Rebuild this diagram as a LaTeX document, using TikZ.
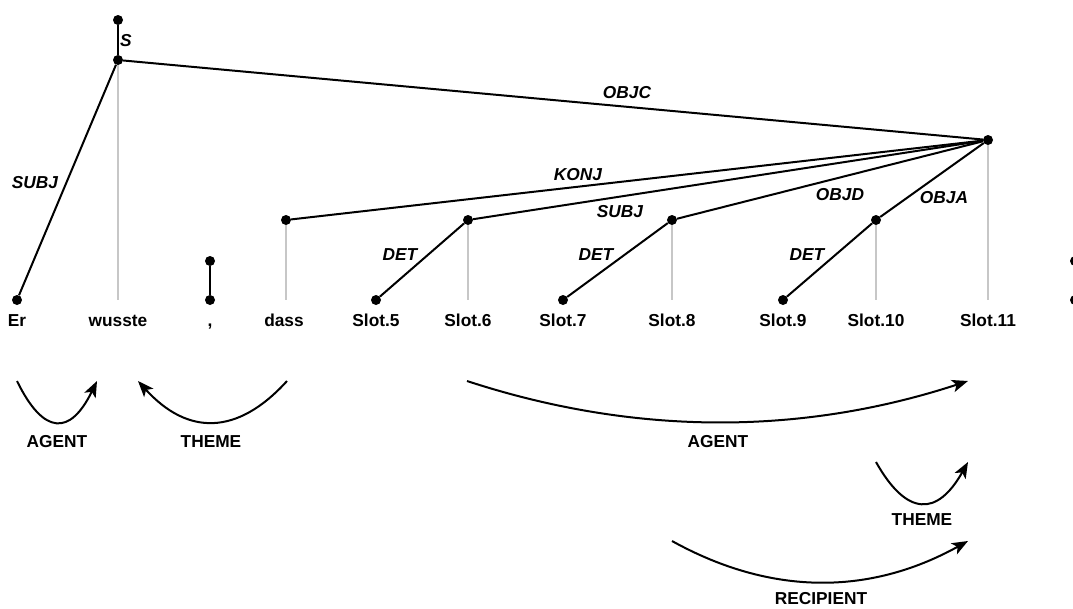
\documentclass[tikz,border=0pt]{standalone}
\usepackage{fontspec}
\setmainfont{Liberation Sans}
\usetikzlibrary{arrows.meta}
\begin{document}
\begin{tikzpicture}[x=1pt,y=-1pt,
  dot/.style={circle,fill=black,inner sep=0pt,minimum size=10pt},
  word/.style={anchor=base,inner sep=0pt,font=\fontsize{17.3}{20}\selectfont\bfseries},
  rel/.style={inner sep=0pt,font=\fontsize{17.3}{20}\selectfont\bfseries\itshape},
  role/.style={inner sep=0pt,font=\fontsize{17.3}{20}\selectfont\bfseries},
  dep/.style={line width=2pt,black},
  proj/.style={line width=2pt,black!22},
  arc/.style={line width=2pt,-{Stealth[length=16pt,width=12.5pt,inset=4pt]}}]
\useasboundingbox (0,0) rectangle (1073,608);

% tree nodes
\node[dot] (root)  at (118,20) {};
\node[dot] (s)     at (118,60) {};
\node[dot] (er)    at (17,300) {};
\node[dot] (commaT) at (210,261) {};
\node[dot] (commaB) at (210,300) {};
\node[dot] (dass)  at (286,220) {};
\node[dot] (sl5)   at (376,300) {};
\node[dot] (sl6)   at (468,220) {};
\node[dot] (sl7)   at (563,300) {};
\node[dot] (sl8)   at (672,220) {};
\node[dot] (sl9)   at (783,300) {};
\node[dot] (sl10)  at (876,220) {};
\node[dot] (sl11)  at (988,140) {};
\node[dot] (perT)  at (1075,261) {};
\node[dot] (perB)  at (1075,300) {};

% word baselines
\coordinate (wusB) at (118,300);
\coordinate (dassB) at (286,300);
\coordinate (sl6B) at (468,300);
\coordinate (sl8B) at (672,300);
\coordinate (sl10B) at (876,300);
\coordinate (sl11B) at (988,300);

% projection lines
\draw[proj] (s) -- (wusB);
\draw[proj] (dass) -- (dassB);
\draw[proj] (sl6) -- (sl6B);
\draw[proj] (sl8) -- (sl8B);
\draw[proj] (sl10) -- (sl10B);
\draw[proj] (sl11) -- (sl11B);

% dependency edges
\draw[dep] (root) -- (s);
\draw[dep] (s) -- (er);
\draw[dep] (s) -- (sl11);
\draw[dep] (sl11) -- (dass);
\draw[dep] (sl11) -- (sl6);
\draw[dep] (sl11) -- (sl8);
\draw[dep] (sl11) -- (sl10);
\draw[dep] (sl10) -- (sl9);
\draw[dep] (sl6) -- (sl5);
\draw[dep] (sl8) -- (sl7);
\draw[dep] (commaT) -- (commaB);
\draw[dep] (perT) -- (perB);

% edge labels
\node[rel,anchor=west] (lS) at (120,41) {S};
\node[rel] (lSubj) at (35,183) {SUBJ};
\node[rel] (lObjc) at (627,93) {OBJC};
\node[rel] (lKonj) at (578,175) {KONJ};
\node[rel] (lSubj2) at (620,212) {SUBJ};
\node[rel] (lObjd) at (840,195) {OBJD};
\node[rel] (lObja) at (944,198) {OBJA};
\node[rel] (lDet1) at (400,255) {DET};
\node[rel] (lDet2) at (596,255) {DET};
\node[rel] (lDet3) at (807,255) {DET};

% words
\node[word] (tEr)   at (17,326) {Er};
\node[word] (tWus)  at (118,326) {wusste};
\node[word] (tCom)  at (210,326) {,};
\node[word] (tDass) at (284,326) {dass};
\node[word] (t5)    at (376,326) {Slot.5};
\node[word] (t6)    at (468,326) {Slot.6};
\node[word] (t7)    at (563,326) {Slot.7};
\node[word] (t8)    at (672,326) {Slot.8};
\node[word] (t9)    at (783,326) {Slot.9};
\node[word] (t10)   at (876,326) {Slot.10};
\node[word] (t11)   at (988,326) {Slot.11};
\node[word] (tPer)  at (1075,326) {.};

% semantic role arcs
\coordinate (a1s) at (17,381);   \coordinate (a1e) at (97,381);
\coordinate (t1s) at (287,381);  \coordinate (t1e) at (138,381);
\coordinate (a2s) at (467,381);  \coordinate (a2e) at (968,381);
\coordinate (t2s) at (876,462);  \coordinate (t2e) at (968,462);
\coordinate (r1s) at (672,541);  \coordinate (r1e) at (968,541);

\draw[arc] (a1s) .. controls (43.7,435.7) and (70.3,435.7) .. (a1e);
\draw[arc] (t1s) .. controls (237.3,435.7) and (187.7,435.7) .. (t1e);
\draw[arc] (a2s) .. controls (634,435.7) and (801,435.7) .. (a2e);
\draw[arc] (t2s) .. controls (906.7,516.7) and (937.3,516.7) .. (t2e);
\draw[arc] (r1s) .. controls (770.7,595.7) and (869.3,595.7) .. (r1e);

\node[role] (rAg1) at (57,442) {AGENT};
\node[role] (rTh1) at (211,442) {THEME};
\node[role] (rAg2) at (718,442) {AGENT};
\node[role] (rTh2) at (922,520) {THEME};
\node[role] (rRec) at (821,599) {RECIPIENT};
\end{tikzpicture}
\end{document}
